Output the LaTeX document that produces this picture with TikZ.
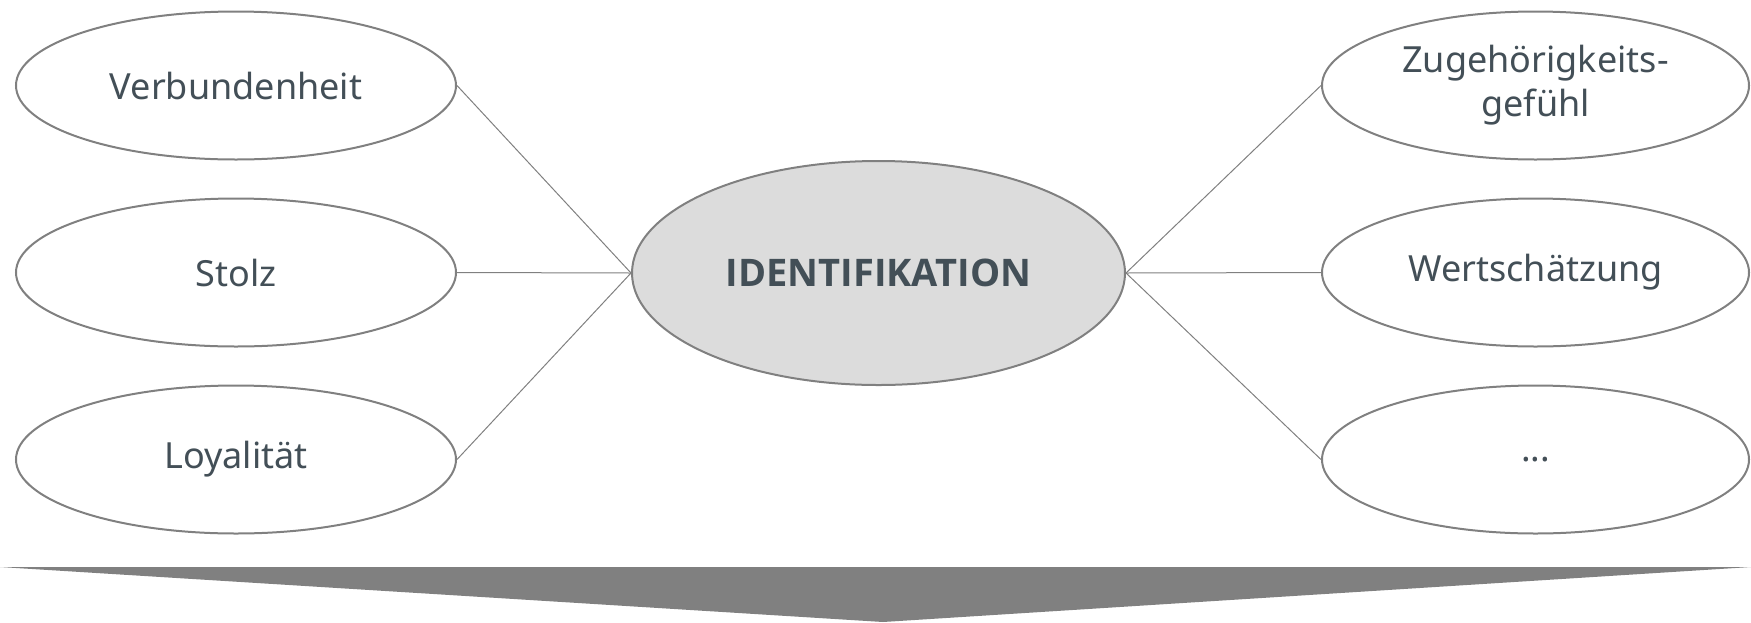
\documentclass[tikz,border=0pt]{standalone}
\usepackage{fontspec}
\setmainfont{Noto Sans}
\newfontfamily\hubfont{Open Sans}
\usetikzlibrary{shapes.geometric}
\definecolor{txtgray}{HTML}{434F57}
\definecolor{rimgray}{HTML}{808080}
\definecolor{hubfill}{HTML}{DCDCDC}
\begin{document}
\begin{tikzpicture}[x=0.5pt,y=-0.5pt,
  leaf/.style={ellipse,draw=rimgray,line width=1pt,minimum width=220pt,minimum height=74pt,inner sep=0pt,text=txtgray,font=\fontsize{18}{22}\selectfont,align=center},
  hub/.style={leaf,fill=hubfill,minimum width=246.5pt,minimum height=112pt,font=\hubfont\bfseries\fontsize{19}{22}\selectfont},
  link/.style={draw=rimgray,line width=0.5pt}]
\useasboundingbox (0,0) rectangle (1751,622);
\node[hub] (ident) at (878.5,273){IDENTIFIKATION};
\node[leaf] (verb) at (236,85.5){Verbundenheit};
\node[leaf] (stolz) at (236,272.5){Stolz};
\node[leaf] (loyal) at (236,459.5){Loyalität};
\node[leaf,minimum width=213.5pt] (zuge) at (1535.5,85.5){Zugehörigkeits-\\gefühl};
\node[leaf,minimum width=213.5pt] (wert) at (1535.5,272.5){Wertschätzung};
\node[leaf,minimum width=213.5pt] (etc) at (1535.5,459.5){...};
\draw[link] (verb.east) -- (ident.west);
\draw[link] (stolz.east) -- (ident.west);
\draw[link] (loyal.east) -- (ident.west);
\draw[link] (ident.east) -- (zuge.west);
\draw[link] (ident.east) -- (wert.west);
\draw[link] (ident.east) -- (etc.west);
\fill[rimgray] (0,567) -- (1751,567) -- (883,622) -- cycle;
\end{tikzpicture}
\end{document}
